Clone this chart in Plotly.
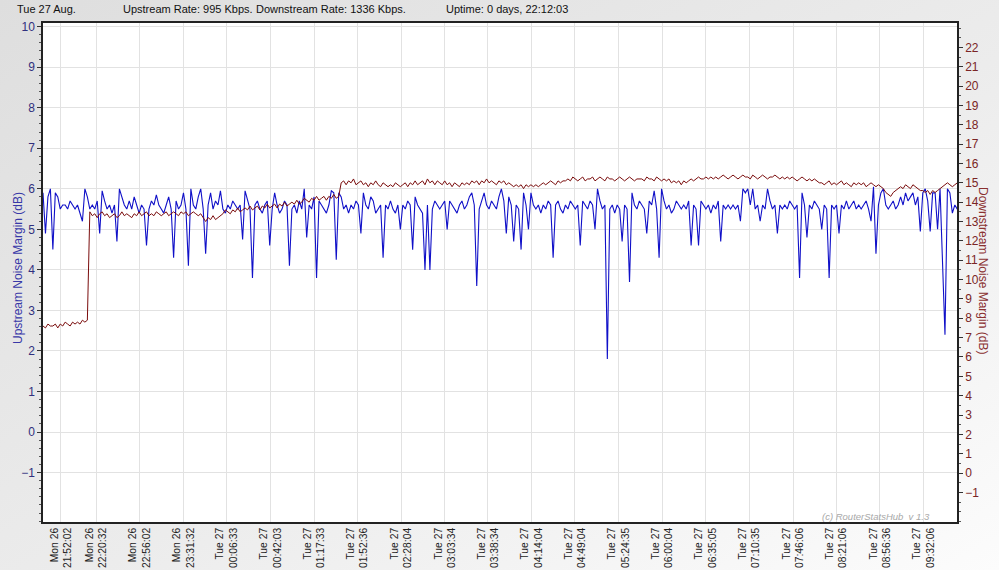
import base64
import pandas as pd
import plotly.graph_objects as go

# ---------------- data ----------------
upstream_start = "2019-08-26 21:37:26"
upstream_step = "2min"
upstream_db = [
    5.9, 4.9, 5.8, 6.0, 4.5, 5.9, 5.8, 5.5, 5.6, 5.6, 5.5, 5.7, 5.6, 5.5, 5.6, 5.4, 5.2, 6.0, 5.8, 5.5,
    5.6, 5.5, 5.7, 4.9, 5.95, 5.7, 5.5, 5.6, 5.4, 5.6, 4.7, 6.0, 5.8, 5.6, 5.5, 5.7, 5.5, 5.8, 5.6, 5.4,
    5.6, 5.5, 4.6, 5.5, 5.7, 5.6, 5.85, 5.6, 5.5, 5.4, 5.6, 5.8, 5.5, 4.3, 5.7, 5.5, 5.6, 5.9, 5.5, 4.1,
    6.0, 5.6, 5.5, 5.8, 6.0, 5.5, 4.4, 5.6, 5.9, 5.5, 5.7, 5.6, 5.95, 5.5, 5.4, 5.6, 5.5, 5.7, 5.6, 5.5,
    5.6, 4.75, 5.95, 5.7, 5.5, 3.8, 5.6, 5.7, 5.5, 5.4, 5.6, 5.7, 4.6, 5.5, 5.9, 5.6, 5.4, 5.5, 5.7, 5.6,
    4.1, 5.5, 5.6, 5.4, 5.7, 5.5, 6.0, 4.8, 5.6, 5.5, 5.8, 3.8, 5.7, 5.6, 5.5, 5.4, 5.6, 5.95, 5.9, 4.25,
    5.9, 5.8, 5.5, 5.6, 5.4, 5.6, 5.5, 5.7, 5.6, 4.9, 5.9, 5.6, 5.5, 5.8, 5.7, 5.4, 5.5, 5.6, 4.3, 5.6,
    5.5, 5.7, 5.5, 5.4, 5.6, 5.0, 5.6, 5.5, 5.7, 5.6, 4.5, 5.8, 5.6, 5.5, 5.4, 4.0, 5.6, 4.0, 5.5, 5.7,
    5.6, 5.5, 5.6, 5.7, 5.0, 5.7, 5.6, 5.5, 5.4, 5.6, 5.7, 5.5, 5.6, 5.8, 5.9, 5.6, 3.6, 5.5, 5.7, 5.9,
    5.6, 5.5, 5.7, 5.6, 5.5, 5.8, 6.0, 5.7, 4.9, 5.8, 5.6, 4.7, 5.6, 5.5, 4.5, 5.9, 5.6, 5.0, 5.9, 5.6,
    5.5, 5.6, 5.4, 5.6, 5.5, 5.7, 5.6, 4.3, 5.6, 5.7, 5.5, 5.4, 5.6, 5.5, 5.7, 5.6, 5.5, 5.6, 4.6, 5.7,
    5.6, 5.5, 5.7, 5.6, 5.0, 6.0, 5.7, 5.5, 5.6, 1.8, 5.5, 5.6, 5.4, 5.6, 5.5, 4.7, 5.6, 5.5, 3.7, 5.9,
    5.6, 5.5, 5.7, 5.6, 5.5, 4.9, 5.7, 5.6, 5.95, 5.5, 4.3, 6.0, 5.7, 5.5, 5.6, 5.4, 5.5, 5.7, 5.6, 5.5,
    5.6, 5.5, 5.7, 4.6, 5.6, 5.5, 4.6, 5.7, 5.6, 5.5, 5.6, 5.4, 5.6, 5.5, 5.7, 4.7, 5.6, 5.5, 5.6, 5.5,
    5.6, 5.5, 5.6, 5.2, 6.0, 5.9, 6.0, 5.6, 6.0, 5.5, 5.6, 5.2, 5.6, 5.5, 6.0, 5.7, 5.5, 5.6, 4.9, 5.6,
    5.5, 5.6, 5.5, 5.7, 5.6, 5.5, 5.6, 3.8, 5.9, 5.6, 4.8, 5.6, 5.5, 5.7, 5.6, 5.5, 5.0, 5.6, 5.5, 3.8,
    5.6, 5.5, 5.6, 4.9, 5.6, 5.5, 5.7, 5.5, 5.6, 5.7, 5.5, 5.6, 5.5, 5.6, 5.7, 5.5, 5.2, 6.05, 4.4, 5.6,
    5.9, 6.0, 5.6, 5.5, 5.6, 5.7, 5.5, 5.6, 5.8, 5.6, 5.9, 5.7, 5.8, 5.9, 5.6, 5.8, 4.95, 5.9, 6.0, 5.7,
    4.95, 5.9, 5.9, 5.0, 6.0, 3.9, 2.4, 6.0, 5.9, 5.4, 5.6, 5.5, 5.6,
]

downstream_start = "2019-08-26 21:37:26"
downstream_step = "2min"
downstream_db = [
    7.6, 7.5, 7.7, 7.6, 7.6, 7.7, 7.5, 7.7, 7.6, 7.8, 7.7, 7.6, 7.8, 7.7, 7.8, 7.7, 7.9, 7.8, 7.9,
    13.5, 13.3, 13.4, 13.2, 13.4, 13.5, 13.3, 13.4, 13.2, 13.3, 13.4, 13.2, 13.3, 13.5, 13.3, 13.4,
    13.3, 13.2, 13.4, 13.3, 13.5, 13.3, 13.4, 13.5, 13.3, 13.4, 13.3, 13.5, 13.4, 13.3, 13.4, 13.5,
    13.3, 13.4, 13.5, 13.4, 13.3, 13.5, 13.4, 13.5, 13.3, 13.4, 13.5, 13.4, 13.3, 13.4,
    13.2, 13.0, 13.2, 13.1, 13.3, 13.1, 13.2, 13.3,
    13.4, 13.6, 13.5, 13.4, 13.6, 13.5, 13.7, 13.5, 13.6, 13.7, 13.6, 13.8, 13.6, 13.7, 13.8, 13.6,
    13.8, 13.7, 13.9, 13.7, 13.8, 13.9, 13.7, 13.9, 13.8, 14.0, 13.8, 13.9, 14.0, 13.9, 14.1, 13.9,
    14.0, 14.2, 14.1, 14.0, 14.2, 14.1, 14.3, 14.1, 14.2, 14.3, 14.1, 14.3, 14.2, 14.4, 14.2, 14.3,
    15.0, 15.1, 14.9, 15.1, 15.0, 15.2, 14.9, 15.0, 15.1, 14.9,
    15.0, 14.8, 15.0, 14.9, 15.1, 14.9, 14.8, 15.0, 14.9, 14.8,
    14.9, 14.8, 15.0, 14.9, 14.8, 14.9, 15.0, 14.8, 15.0, 14.9,
    15.1, 14.9, 15.0, 15.1, 14.9, 15.2, 15.0, 15.1, 14.9, 15.1,
    15.0, 14.9, 15.1, 14.9, 15.0, 14.8, 15.0, 14.9, 14.8, 15.0,
    14.9, 15.0, 14.9, 15.1, 15.0, 15.1, 14.9, 15.1, 15.0, 15.2,
    15.0, 15.1, 15.0, 14.9, 15.1, 15.0, 15.1, 14.9, 15.0, 14.9,
    14.8, 14.9, 14.8, 14.9, 14.7, 14.9, 14.8, 14.9, 14.8, 14.9,
    14.8, 14.9, 15.0, 14.9, 15.0, 15.1, 15.0, 14.9, 15.1, 15.0,
    15.1,
    15.1, 15.2, 15.1, 15.3, 15.2, 15.1, 15.2, 15.3, 15.1, 15.2,
    15.2, 15.3, 15.1, 15.2, 15.3, 15.2, 15.1, 15.3, 15.2, 15.2,
    15.1, 15.2, 15.3, 15.2, 15.1, 15.2, 15.3, 15.2, 15.1, 15.2,
    15.2,
    15.2, 15.1, 15.3, 15.2, 15.2, 15.1, 15.3, 15.2, 15.1, 15.2,
    15.1, 15.2, 15.0, 15.1, 15.0, 15.1, 14.9, 15.1, 15.0, 15.1,
    15.2, 15.1, 15.2, 15.3, 15.2, 15.2, 15.3, 15.2, 15.3, 15.2,
    15.3, 15.2, 15.3, 15.4, 15.3, 15.2, 15.3, 15.4, 15.3, 15.2,
    15.3, 15.4, 15.3, 15.3, 15.2, 15.4, 15.3, 15.2, 15.3, 15.4,
    15.3, 15.2, 15.3, 15.3, 15.4, 15.3, 15.2, 15.3, 15.2, 15.3,
    15.2, 15.3, 15.2, 15.1, 15.2, 15.3, 15.2, 15.1, 15.2, 15.1,
    15.2, 15.1, 15.0,
    15.0, 14.9, 15.0, 15.1, 14.9, 15.0, 14.9, 15.0, 15.1, 14.9,
    15.0, 14.9, 14.8, 15.0, 14.9, 15.0, 14.9, 15.0, 14.8, 14.9,
    15.0, 14.9, 14.8, 14.9, 14.8,
    14.7, 14.5, 14.4, 14.3, 14.5, 14.6,
    14.7, 14.8, 14.7, 14.9, 14.8, 14.7, 14.9, 14.8, 14.7, 14.6,
    14.6, 14.5, 14.6, 14.4, 14.6, 14.5, 14.6, 14.7,
    14.8, 14.9, 15.0, 14.9, 14.8, 14.9, 15.0, 14.9,
]

tick_stamps = [
    "2019-08-26 21:52:02", "2019-08-26 22:20:32", "2019-08-26 22:56:02", "2019-08-26 23:31:32",
    "2019-08-27 00:06:33", "2019-08-27 00:42:03", "2019-08-27 01:17:33", "2019-08-27 01:52:36",
    "2019-08-27 02:28:04", "2019-08-27 03:03:34", "2019-08-27 03:38:34", "2019-08-27 04:14:04",
    "2019-08-27 04:49:04", "2019-08-27 05:24:35", "2019-08-27 06:00:04", "2019-08-27 06:35:05",
    "2019-08-27 07:10:35", "2019-08-27 07:46:06", "2019-08-27 08:21:06", "2019-08-27 08:56:36",
    "2019-08-27 09:32:06",
]
tick_days = ["Mon 26"] * 4 + ["Tue 27"] * 17
tick_times = [s[-8:] for s in tick_stamps]

x_range = ["2019-08-26 21:37:26", "2019-08-27 09:59:12"]
left_range = [-2.22, 10.09]
right_range = [-2.53, 23.26]
left_ticks = list(range(-1, 11))
right_ticks = list(range(-1, 23))

header_date = "Tue 27 Aug."
header_up = "Upstream Rate: 995 Kbps."
header_down = "Downstream Rate: 1336 Kbps."
header_uptime = "Uptime: 0 days, 22:12:03"

# ---------------- figure ----------------
W, H = 999, 570
ML, MR, MT, MB = 43, 42, 23, 48
PW, PH = W - ML - MR, H - MT - MB


def px(xp):
    return (xp - ML) / PW


def py(yp):
    return (H - MB - yp) / PH


up_x = pd.date_range(upstream_start, periods=len(upstream_db), freq=upstream_step)
down_x = pd.date_range(downstream_start, periods=len(downstream_db), freq=downstream_step)

fig = go.Figure()
fig.add_trace(go.Scatter(x=up_x, y=upstream_db, mode="lines",
                         line=dict(color="#1010c8", width=1.1), yaxis="y", name="Upstream"))
fig.add_trace(go.Scatter(x=down_x, y=downstream_db, mode="lines",
                         line=dict(color="#7a0c0c", width=1), yaxis="y2", name="Downstream"))

font = "Liberation Sans, Arial, sans-serif"

svg = ('<svg xmlns="http://www.w3.org/2000/svg" width="999" height="570">'
       '<defs><linearGradient id="g" x1="0" y1="0" x2="1" y2="1">'
       '<stop offset="0" stop-color="#dedede"/><stop offset="0.55" stop-color="#ececec"/>'
       '<stop offset="1" stop-color="#fcfcfc"/></linearGradient></defs>'
       '<rect width="999" height="570" fill="url(#g)"/></svg>')
src = "data:image/svg+xml;base64," + base64.b64encode(svg.encode()).decode()

fig.update_layout(
    width=W, height=H,
    margin=dict(l=ML, r=MR, t=MT, b=MB, pad=0),
    paper_bgcolor="#ebebeb",
    plot_bgcolor="white",
    showlegend=False,
    font=dict(family=font, size=11, color="#222"),
    images=[dict(source=src, xref="paper", yref="paper", x=px(0), y=py(0),
                 sizex=W / PW, sizey=H / PH, xanchor="left", yanchor="top",
                 sizing="stretch", layer="below")],
    shapes=[dict(type="rect", xref="paper", yref="paper", x0=0, x1=1, y0=0, y1=1,
                 fillcolor="white", line=dict(width=0), layer="below")],
    xaxis=dict(
        type="date", range=x_range, tickvals=tick_stamps,
        ticktext=[d + "<br>" + t for d, t in zip(tick_days, tick_times)],
        tickangle=-90, tickfont=dict(family=font, size=10.3, color="#222"),
        showgrid=True, gridcolor="#e2e2e2", gridwidth=1,
        showline=True, linecolor="#222", linewidth=1.5, mirror=True,
        ticks="", automargin=False, zeroline=False,
    ),
    yaxis=dict(
        range=left_range, tickvals=left_ticks, ticks="outside", ticklen=4, tickcolor="#333",
        tickfont=dict(family=font, size=12, color="#30307e"),
        showgrid=True, gridcolor="#e2e2e2", zeroline=False,
        showline=True, linecolor="#222", linewidth=1.5, mirror=True,
        minor=dict(dtick=0.2, ticks="outside", ticklen=2, tickcolor="#555", showgrid=False),
        automargin=False,
    ),
    yaxis2=dict(
        range=right_range, tickvals=right_ticks, overlaying="y", side="right",
        ticks="outside", ticklen=4, tickcolor="#333",
        tickfont=dict(family=font, size=12, color="#7a2525"),
        showgrid=False, zeroline=False,
        showline=True, linecolor="#222", linewidth=1.5,
        minor=dict(dtick=0.5, ticks="outside", ticklen=2, tickcolor="#555", showgrid=False),
        automargin=False,
    ),
)

ann = []
hy = py(9)
ann.append(dict(text=header_date, x=px(78), y=hy, xref="paper", yref="paper",
                xanchor="right", yanchor="middle", showarrow=False,
                font=dict(family=font, size=11, color="#111")))
for txt, xp in [(header_up, 121), (header_down, 254), (header_uptime, 444)]:
    ann.append(dict(text=txt, x=px(xp), y=hy, xref="paper", yref="paper",
                    xanchor="left", yanchor="middle", showarrow=False,
                    font=dict(family=font, size=11, color="#111")))
ann.append(dict(text="Upstream Noise Margin (dB)", x=px(18), y=py(268), xref="paper", yref="paper",
                textangle=-90, showarrow=False, xanchor="center", yanchor="middle",
                font=dict(family=font, size=12, color="#3838a8")))
ann.append(dict(text="Downstream Noise Margin (dB)", x=px(983), y=py(270), xref="paper", yref="paper",
                textangle=90, showarrow=False, xanchor="center", yanchor="middle",
                font=dict(family=font, size=12, color="#8a3030")))
ann.append(dict(text="<i>(c) RouterStatsHub  v 1.3</i>", x=px(932), y=py(516), xref="paper", yref="paper",
                xanchor="right", yanchor="middle", showarrow=False,
                font=dict(family=font, size=9.5, color="#a8a8a8")))
fig.update_layout(annotations=ann)

fig.write_html("out.html")
